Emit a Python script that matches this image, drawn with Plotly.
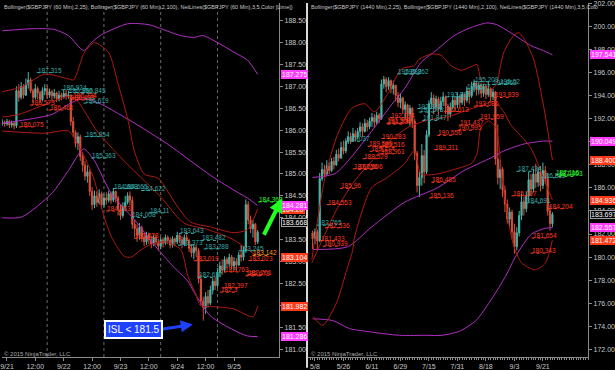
import plotly.graph_objects as go

# ======================= LEFT PANEL (60 Min) =======================
L_IDX = list(range(-2, 107))
L_CLOSE = [186.18, 186.14, 186.20, 186.12, 186.16, 186.10,
           186.90, 186.75, 187.00, 186.80, 187.05, 187.15,
           186.90, 186.75, 186.95, 186.85, 186.70, 186.90, 186.95, 186.80, 186.88, 186.78,
           186.85, 186.72, 186.80, 186.76, 186.84, 186.78, 186.80,
           186.20, 185.95, 185.70, 185.85, 185.40, 185.20, 184.95, 185.05, 184.60, 184.30,
           184.50, 184.35, 184.55, 184.30, 184.45, 184.40, 184.55, 184.40, 184.60, 184.45,
           184.20, 184.05, 184.25, 184.35, 184.50, 184.40,
           183.85, 183.75, 183.60, 183.78, 183.55, 183.45, 183.60, 183.50, 183.40, 183.55,
           183.45, 183.35, 183.50, 183.42, 183.55, 183.48, 183.38, 183.52, 183.45, 183.60,
           183.50, 183.40, 183.55, 183.48, 183.30, 183.20, 183.32, 183.25,
           182.60, 182.10, 181.95, 182.20, 182.05, 182.35, 182.55, 182.45, 182.75, 182.90,
           182.80, 183.05, 182.95, 183.10, 182.90, 183.00, 182.92, 183.15, 183.10, 183.25,
           184.30, 183.95, 183.75, 183.85, 183.45, 183.67]
L_HIGH = [186.25, 186.22, 186.26, 186.24, 186.22, 186.20,
          187.00, 187.05, 187.10, 187.05, 187.18, 187.33,
          187.20, 186.95, 187.05, 187.00, 186.90, 186.98, 187.05, 187.02, 186.95, 186.92,
          186.94, 186.88, 186.90, 186.86, 186.92, 186.92, 186.90,
          186.82, 186.30, 186.00, 185.95, 185.90, 185.50, 185.30, 185.20, 185.10, 184.70,
          184.62, 184.60, 184.65, 184.60, 184.55, 184.58, 184.62, 184.60, 184.68, 184.62,
          184.50, 184.30, 184.35, 184.50, 184.58, 184.60,
          184.48, 183.95, 183.85, 183.88, 183.82, 183.65, 183.68, 183.66, 183.58, 183.62,
          183.60, 183.52, 183.56, 183.55, 183.62, 183.60, 183.55, 183.58, 183.55, 183.68,
          183.65, 183.58, 183.62, 183.70, 183.52, 183.40, 183.40, 183.38,
          183.30, 182.70, 182.20, 182.30, 182.35, 182.45, 182.62, 182.65, 182.85, 183.00,
          183.05, 183.12, 183.10, 183.18, 183.15, 183.10, 183.08, 183.22, 183.37, 183.35,
          184.42, 184.38, 184.05, 183.95, 183.88, 183.72]
L_LOW = [186.10, 186.08, 186.10, 186.05, 186.06, 186.02,
         186.05, 186.65, 186.70, 186.72, 186.78, 186.95,
         186.85, 186.62, 186.70, 186.70, 186.62, 186.66, 186.80, 186.72, 186.74, 186.68,
         186.72, 186.64, 186.66, 186.68, 186.72, 186.70, 186.72,
         186.10, 185.85, 185.60, 185.55, 185.30, 185.05, 184.85, 184.80, 184.50, 184.18,
         184.22, 184.25, 184.30, 184.20, 184.22, 184.30, 184.35, 184.32, 184.36, 184.35,
         184.05, 183.95, 184.00, 184.15, 184.30, 184.28,
         183.75, 183.55, 183.45, 183.50, 183.45, 183.35, 183.38, 183.40, 183.30, 183.35,
         183.38, 183.25, 183.28, 183.32, 183.38, 183.40, 183.30, 183.32, 183.35, 183.40,
         183.42, 183.30, 183.35, 183.40, 183.22, 183.10, 183.05, 183.12,
         182.50, 182.00, 181.65, 181.80, 181.95, 182.00, 182.25, 182.35, 182.40, 182.65,
         182.70, 182.75, 182.85, 182.88, 182.82, 182.80, 182.78, 182.90, 183.00, 183.02,
         183.20, 183.85, 183.65, 183.55, 183.38, 183.40]
L_FIRST_OPEN = 186.15

# Bollinger (2,100) - purple
L_BB100_UP_X = [-2, 12, 20, 26, 32.4, 35.7, 40, 51, 60, 64, 73.5, 79, 83, 89, 96, 101.7, 106]
L_BB100_UP_Y = [188.27, 188.32, 188.30, 188.16, 187.82, 188.0, 188.18, 188.43, 188.41, 188.34,
                188.16, 188.12, 188.16, 188.0, 187.78, 187.60, 187.275]
L_BB100_MID_X = [-2, 3.4, 19, 26, 30.3, 34.5, 40, 45.4, 54, 64, 68, 87.4, 96, 101.7, 106]
L_BB100_MID_Y = [186.16, 186.2, 186.36, 186.59, 186.70, 186.70, 186.59, 186.43, 186.16, 185.82,
                 185.68, 184.92, 184.63, 184.45, 184.281]
L_BB100_LO_X = [-2, 6.3, 19, 26, 32.4, 37, 44, 54, 64, 70.6, 76.5, 79, 86, 96, 101.7, 106]
L_BB100_LO_Y = [184.0, 184.02, 184.56, 185.08, 185.57, 185.3, 184.56, 183.95, 183.27, 182.87,
                182.55, 182.31, 181.76, 181.43, 181.30, 181.286]
# Bollinger (2,25) - red
L_BB25_UP_X = [-2, 6.3, 16, 26, 28.2, 32.8, 37, 42.9, 47.1, 51.3, 53.8, 58, 63.9, 72.3, 77.7,
               86.1, 95.8, 101.7, 106]
L_BB25_UP_Y = [186.88, 186.99, 187.28, 187.17, 187.15, 187.78, 188.0, 187.78, 187.04, 186.2,
               185.53, 185.0, 184.9, 184.24, 183.9, 183.79, 183.66, 183.73, 184.20]
L_BB25_MID_X = [-2, 5, 16.8, 26, 29.4, 32.8, 37.8, 42.9, 50.4, 56.7, 65.1, 74.8, 84.9, 95.8, 106]
L_BB25_MID_Y = [186.30, 186.36, 186.6, 186.77, 186.70, 186.43, 186.0, 185.68, 185.25, 184.92,
                184.47, 183.88, 183.73, 183.5, 183.104]
L_BB25_LO_X = [-2, 16, 26, 30.3, 34.5, 37, 39.9, 44.1, 49.6, 52.5, 56.7, 60.9, 67.2, 73.5, 76.5,
               79.8, 81.9, 87.4, 95.8, 101.7, 104.2, 106]
L_BB25_LO_Y = [185.98, 185.93, 185.98, 185.64, 185.19, 184.85, 184.24, 183.57, 183.12, 183.1,
               183.27, 183.39, 183.45, 183.27, 182.67, 182.26, 181.99, 181.97, 181.92, 181.77,
               181.74, 181.982]

L_TICKVALS = [0, 12, 24, 36, 48, 60, 72, 84, 96]
L_TICKTEXT = ["9/21", "12:00", "9/22", "12:00", "9/23", "12:00", "9/24", "12:00", "9/25"]
L_SESSION_BREAKS = [17, 41, 65, 89]

L_LBL_TEXT = ["187.315", "186.924", "186.860", "186.845", "186.734", "186.688", "186.619",
              "186.573", "186.461", "186.075", "185.854", "185.363", "184.668", "184.665",
              "184.622", "184.11", "184.008", "184.153", "183.528", "183.643", "183.373",
              "183.482", "183.288", "183.019", "182.637", "182.763", "182.701", "182.673",
              "182.397", "182.3", "183.245", "183.142", "183.023", "184.363"]
L_LBL_X = [12.6, 23.1, 26.0, 31.5, 27.3, 26.5, 32.4, 9.7, 17.6, 5.0, 32.8, 35.7, 45.0, 49.2,
           56.7, 60.0, 52.5, 42.0, 53.8, 72.7, 72.3, 82.0, 83.2, 79.0, 80.7, 91.6, 101.7, 100.8,
           91.2, 90.0, 97.9, 103.8, 102.1, 106.3]
L_LBL_COL = ["t", "t", "t", "t", "r", "r", "t", "r", "r", "r", "t", "t", "t", "t", "t", "t",
             "t", "r", "r", "t", "t", "t", "t", "r", "t", "r", "r", "r", "r", "r", "t", "o",
             "r", "g"]

L_MARK_TEXT = ["187.275", "184.20", "184.281", "183.104", "181.982", "181.286"]
L_MARK_Y = [187.275, 184.20, 184.281, 183.104, 181.982, 181.286]
L_MARK_KIND = ["p", "r", "p", "r", "r", "p"]
L_LAST_TEXT = "183.668"

# ======================= RIGHT PANEL (1440 Min) =======================
R_IDX = list(range(-1, 101))
R_CLOSE = [181.60, 182.20, 181.40, 186.80, 187.60, 187.20, 187.90, 187.50, 188.30, 188.00,
           188.90, 188.60, 189.50, 189.20, 190.00, 190.40, 190.10, 190.70, 190.40, 190.90,
           191.30, 190.90, 191.60, 191.30, 191.80, 192.10, 191.70, 192.30, 192.00, 195.00,
           195.40, 194.80, 195.30, 194.60, 194.90, 194.00, 193.40, 193.80, 192.80, 193.20,
           192.40, 192.90, 191.80, 189.00, 186.20, 186.90, 188.80, 187.40, 190.60, 193.30,
           193.80, 193.00, 193.70, 192.80, 193.50, 193.90, 193.10, 192.40, 193.00, 193.60,
           193.20, 193.90, 193.40, 194.10, 193.60, 194.40, 194.00, 194.80, 195.10, 194.50,
           194.90, 194.20, 194.80, 194.10, 194.60, 193.90, 194.30, 188.50, 186.90, 187.60,
           185.80, 184.60, 183.30, 183.90, 182.20, 180.90, 182.10, 183.60, 184.80, 184.20,
           185.30, 186.70, 185.90, 187.20, 186.50, 187.40, 186.20, 187.50, 186.80, 184.00,
           182.90, 183.70]
R_HIGH = [182.30, 182.50, 182.40, 187.30, 188.20, 188.00, 188.40, 188.20, 188.60, 188.70,
          189.30, 189.40, 190.00, 190.10, 190.30, 190.90, 190.80, 191.20, 191.00, 191.20,
          191.70, 191.60, 192.00, 191.90, 192.10, 192.50, 192.40, 192.60, 192.50, 195.40,
          195.70, 195.60, 195.60, 195.40, 195.30, 194.80, 194.30, 194.20, 193.90, 193.50,
          193.30, 193.20, 193.00, 192.00, 189.20, 187.40, 189.80, 189.30, 191.00, 193.60,
          194.30, 194.10, 194.00, 193.90, 193.90, 194.30, 194.00, 193.30, 193.40, 194.00,
          193.90, 194.30, 194.10, 194.30, 194.20, 194.80, 194.60, 195.20, 195.40, 195.20,
          195.20, 195.10, 195.00, 194.90, 195.20, 194.70, 194.60, 194.40, 191.50, 188.40,
          187.80, 186.20, 185.00, 184.30, 184.10, 182.90, 182.60, 184.00, 185.50, 185.20,
          185.70, 187.40, 187.20, 187.60, 188.10, 187.80, 187.90, 188.20, 187.90, 187.30,
          184.50, 183.90]
R_LOW = [180.70, 181.10, 180.60, 181.30, 186.60, 186.90, 187.00, 187.20, 187.40, 187.60,
         187.90, 188.30, 188.50, 188.90, 189.00, 189.80, 189.80, 190.00, 190.00, 190.20,
         190.50, 190.40, 190.80, 190.90, 191.10, 191.30, 191.20, 191.50, 191.60, 191.90,
         194.60, 194.30, 194.50, 194.20, 194.10, 193.50, 193.00, 192.90, 192.40, 191.90,
         191.60, 191.40, 191.20, 188.40, 185.60, 185.20, 186.20, 186.40, 187.20, 190.40,
         192.90, 192.40, 192.70, 192.30, 192.60, 193.10, 192.40, 191.80, 192.10, 192.80,
         192.60, 192.90, 193.00, 193.20, 193.10, 193.40, 193.30, 193.80, 194.30, 194.00,
         194.10, 193.80, 193.90, 193.70, 193.90, 193.50, 193.60, 188.00, 186.30, 185.90,
         185.20, 183.90, 182.90, 182.60, 181.60, 180.30, 180.60, 181.80, 183.20, 183.60,
         183.90, 184.80, 185.30, 185.60, 186.00, 186.10, 185.70, 185.90, 186.30, 183.60,
         182.30, 182.60]
R_FIRST_OPEN = 182.10

R_BB100_UP_X = [-1, 8.4, 13.8, 23.8, 32.2, 37.7, 44.8, 51.5, 58.6, 65.7, 72.4, 76.6, 82.4, 90.8, 96.2, 100]
R_BB100_UP_Y = [186.9, 187.24, 188.3, 190.9, 193.2, 194.6, 196.9, 198.0, 199.2, 199.9, 200.3,
                200.15, 199.46, 198.35, 197.9, 197.541]
R_BB100_MID_X = [-1, 13.8, 23.8, 37.7, 51.5, 62.8, 74.1, 79.5, 87.9, 96.2, 100]
R_BB100_MID_Y = [180.66, 180.9, 182.6, 184.75, 186.0, 187.5, 188.6, 189.2, 189.8, 190.06, 190.049]
R_BB100_LO_X = [-1, 7.5, 14.6, 21.8, 35.6, 46.9, 53.6, 60.7, 67.8, 74.5, 80.3, 84.9, 91.2, 97.1, 100]
R_BB100_LO_Y = [174.65, 174.5, 173.8, 173.56, 173.22, 173.22, 173.22, 173.56, 174.5, 176.4,
                178.35, 180.2, 182.0, 182.5, 182.557]
R_BB25_UP_X = [-1.3, 4.2, 9.6, 15.5, 20.9, 25.1, 30.5, 36.4, 41.8, 43.9, 48.9, 53.1, 57.3, 61.5,
               65.7, 68.2, 69.9, 74.1, 76.2, 79.5, 83.7, 85.8, 87.9, 92.1, 96.2, 100]
R_BB25_UP_Y = [179.8, 186.9, 190.66, 192.9, 193.3, 192.6, 194.1, 196.3, 196.6, 197.15, 197.6,
               197.5, 196.6, 196.2, 196.5, 196.7, 195.4, 194.6, 194.9, 197.75, 199.2, 199.46,
               199.0, 197.15, 193.2, 188.40]
R_BB25_MID_X = [-1.3, 9.6, 16.7, 23.8, 31.4, 39.7, 48.1, 56.5, 64.9, 71.1, 75.3, 79.5, 82.4,
                90.8, 96.2, 100]
R_BB25_MID_Y = [179.5, 184.3, 186.6, 188.3, 190.06, 191.3, 191.9, 192.2, 192.8, 193.2, 193.5,
                192.6, 191.5, 189.5, 186.9, 184.936]
R_BB25_LO_X = [-0.8, 3.3, 9.2, 13.4, 15.9, 16.7, 23.8, 30.5, 37.7, 41.8, 44.8, 51.5, 58.6, 65.7,
               68.2, 69.9, 73.2, 76.2, 78.7, 81.6, 83.7, 87, 92.9, 97.1, 100]
R_BB25_LO_Y = [174.84, 174.08, 176.1, 178.9, 180.6, 181.75, 186.0, 186.9, 188.1, 189.2, 187.2,
               187.2, 187.6, 188.1, 188.9, 191.2, 191.8, 191.2, 187.0, 183.0, 181.0, 179.5,
               178.9, 179.5, 181.472]

R_TICKVALS = [0, 12, 24, 36, 48, 60, 72, 84, 96]
R_TICKTEXT = ["5/8", "5/26", "6/11", "6/29", "7/15", "7/31", "8/18", "9/3", "9/21"]

R_LBL_TEXT = ["195.882", "195.862", "195.209", "195.02", "194.577", "194.963", "193.839",
              "193.893", "193.086", "192.871", "192.613", "192.573", "192.094", "191.959",
              "191.847", "191.437", "191.598", "191.526", "190.995", "190.556", "190.283",
              "189.599", "189.516", "189.311", "188.961", "189.174", "188.529", "187.656",
              "187.606", "186.485", "185.96", "185.136", "184.553", "182.765", "182.536",
              "181.433", "180.939", "190.037", "187.434", "186.882", "187.116", "187.003",
              "185.307", "184.691", "184.204", "181.654", "180.343"]
R_LBL_X = [34.7, 37.7, 66.9, 77.4, 63.6, 74.5, 75.3, 55.2, 66.9, 43.1, 54.4, 43.9, 31.4, 69.0,
           45.2, 60.7, 30.1, 30.5, 59.8, 51.5, 28.0, 22.2, 27.2, 50.2, 27.2, 23.0, 20.1, 15.9,
           18.0, 49.0, 10.5, 48.1, 5.0, 0.8, 4.2, 2.1, 3.3, 12.6, 84.9, 95.0, 101.3, 102.5,
           82.8, 88.7, 98.3, 91.2, 90.8]
R_LBL_COL = ["t", "t", "t", "t", "t", "t", "r", "t", "r", "t", "r", "t", "r", "r", "t", "r",
             "r", "r", "r", "r", "r", "r", "r", "r", "r", "r", "r", "r", "r", "r", "r", "r",
             "r", "t", "r", "r", "r", "t", "t", "t", "g", "g", "r", "t", "r", "r", "r"]

R_MARK_TEXT = ["197.541", "190.049", "188.400", "184.936", "182.557", "181.472"]
R_MARK_Y = [197.541, 190.049, 188.400, 184.936, 182.557, 181.472]
R_MARK_KIND = ["p", "p", "r", "r", "p", "r"]
R_LAST_TEXT = "183.697"

TITLE_L = ("Bollinger($GBPJPY (60 Min),2,25), Bollinger($GBPJPY (60 Min),2,100), "
           "NetLines($GBPJPY (60 Min),3,5,Color [Lime])")
TITLE_R = ("Bollinger($GBPJPY (1440 Min),2,25), Bollinger($GBPJPY (1440 Min),2,100), "
           "NetLines($GBPJPY (1440 Min),3,5,Colo")
COPYRIGHT = "© 2015 NinjaTrader, LLC"
CALLOUT = "ISL < 181.5"

# ======================= STYLE =======================
W, H = 615, 370
NARROW = "Liberation Sans Narrow, Arial Narrow, Liberation Sans, sans-serif"
UP_COL = "#4cb5aa"
DN_COL = "#d9503c"
PURPLE = "#b22fc4"
DKRED = "#b01a12"
AXIS_COL = "#8a8a8a"
TXT_COL = "#c8c8c8"
LBL_COLORS = {"t": "#36a9a6", "r": "#ff3a22", "o": "#ff9a1a", "g": "#2bff2b"}
MARK_BG = {"p": "#ff3cff", "r": "#ff3a1a"}

LEFT_DOM = [0, 279 / W]
RIGHT_DOM = [308 / W, 590 / W]
PLOT_H = 359


def prev_close_opens(first, closes):
    return [first] + closes[:-1]


def fix_hl(opens, highs, lows, closes):
    hi = [max(h, o, c) for h, o, c in zip(highs, opens, closes)]
    lo = [min(l, o, c) for l, o, c in zip(lows, opens, closes)]
    return hi, lo


fig = go.Figure()

panels = [
    dict(xa="x", ya="y", idx=L_IDX, close=L_CLOSE, high=L_HIGH, low=L_LOW, first=L_FIRST_OPEN,
         lines=[(L_BB100_UP_X, L_BB100_UP_Y, PURPLE), (L_BB100_MID_X, L_BB100_MID_Y, PURPLE),
                (L_BB100_LO_X, L_BB100_LO_Y, PURPLE), (L_BB25_UP_X, L_BB25_UP_Y, DKRED),
                (L_BB25_MID_X, L_BB25_MID_Y, DKRED), (L_BB25_LO_X, L_BB25_LO_Y, DKRED)]),
    dict(xa="x2", ya="y2", idx=R_IDX, close=R_CLOSE, high=R_HIGH, low=R_LOW, first=R_FIRST_OPEN,
         lines=[(R_BB100_UP_X, R_BB100_UP_Y, PURPLE), (R_BB100_MID_X, R_BB100_MID_Y, PURPLE),
                (R_BB100_LO_X, R_BB100_LO_Y, PURPLE), (R_BB25_UP_X, R_BB25_UP_Y, DKRED),
                (R_BB25_MID_X, R_BB25_MID_Y, DKRED), (R_BB25_LO_X, R_BB25_LO_Y, DKRED)]),
]

for p in panels:
    for xs, ys, col in p["lines"]:
        fig.add_trace(go.Scatter(x=xs, y=ys, mode="lines", xaxis=p["xa"], yaxis=p["ya"],
                                 line=dict(color=col, width=1, shape="spline", smoothing=0.7),
                                 hoverinfo="skip"))
    opens = prev_close_opens(p["first"], p["close"])
    hi, lo = fix_hl(opens, p["high"], p["low"], p["close"])
    fig.add_trace(go.Candlestick(
        x=p["idx"], open=opens, high=hi, low=lo, close=p["close"],
        xaxis=p["xa"], yaxis=p["ya"], whiskerwidth=0,
        increasing=dict(line=dict(color=UP_COL, width=1), fillcolor=UP_COL),
        decreasing=dict(line=dict(color=DN_COL, width=1), fillcolor=DN_COL),
        hoverinfo="skip"))

annotations = []
shapes = []

# NetLines labels with dotted underlines
for texts, xs, cols, xa, ya, span in [(L_LBL_TEXT, L_LBL_X, L_LBL_COL, "x", "y", 7.0),
                                      (R_LBL_TEXT, R_LBL_X, R_LBL_COL, "x2", "y2", 7.0)]:
    for t, x, c in zip(texts, xs, cols):
        v = float(t)
        col = LBL_COLORS[c]
        shapes.append(dict(type="line", xref=xa, yref=ya, x0=x, x1=x + span, y0=v, y1=v,
                           line=dict(color=col, width=1, dash="dot"), layer="above"))
        annotations.append(dict(x=x, y=v, xref=xa, yref=ya, text=t, showarrow=False,
                                xanchor="left", yanchor="bottom", yshift=-2, borderpad=0,
                                font=dict(family=NARROW, size=6.5, color=col)))

# Session break lines (left)
for sb in L_SESSION_BREAKS:
    shapes.append(dict(type="line", xref="x", yref="y domain", x0=sb, x1=sb, y0=0, y1=1,
                       line=dict(color="#6a6a6a", width=1, dash="dot"), layer="below"))

# Panel separator
shapes.append(dict(type="line", xref="paper", yref="paper", x0=307 / W, x1=307 / W,
                   y0=-11 / PLOT_H, y1=1, line=dict(color="#d8d8d8", width=2)))


def marker(xpaper, yval, ya, text, bg, border, yshift=0):
    return dict(x=xpaper, y=yval, xref="paper", yref=ya, text=text, showarrow=False,
                xanchor="left", yanchor="middle", yshift=yshift, bgcolor=bg,
                bordercolor=border, borderwidth=1, borderpad=0,
                font=dict(family=NARROW, size=7, color="white"))


for texts, ys, kinds, xp, ya in [(L_MARK_TEXT, L_MARK_Y, L_MARK_KIND, 281 / W, "y"),
                                 (R_MARK_TEXT, R_MARK_Y, R_MARK_KIND, 592 / W, "y2")]:
    for t, y, k in zip(texts, ys, kinds):
        annotations.append(marker(xp, y, ya, t, MARK_BG[k], MARK_BG[k]))
annotations.append(marker(281 / W, L_CLOSE[-1], "y", L_LAST_TEXT, "black", "#a0a0a0", yshift=10))
annotations.append(marker(592 / W, R_CLOSE[-1], "y2", R_LAST_TEXT, "black", "#a0a0a0"))

# Titles and copyright
annotations.append(dict(x=0, y=1, xref="paper", yref="paper", text=TITLE_L, showarrow=False,
                        xanchor="left", yanchor="top", yshift=1,
                        font=dict(family=NARROW, size=5.5, color=TXT_COL)))
annotations.append(dict(x=309 / W, y=1, xref="paper", yref="paper", text=TITLE_R, showarrow=False,
                        xanchor="left", yanchor="top", yshift=1,
                        font=dict(family=NARROW, size=5.5, color=TXT_COL)))
for xp in [0, 309 / W]:
    annotations.append(dict(x=xp, y=3 / PLOT_H, xref="paper", yref="paper", text=COPYRIGHT,
                            showarrow=False, xanchor="left", yanchor="middle",
                            font=dict(family=NARROW, size=6, color="#a8a8a8")))

# Green arrow
annotations.append(dict(x=282 / W, y=1 - 198 / PLOT_H, xref="paper", yref="paper", text="",
                        showarrow=True, ax=-19, ay=38, arrowcolor="#22ff22", arrowwidth=4,
                        arrowhead=2, arrowsize=0.7))
# Blue callout
annotations.append(dict(x=192 / W, y=1 - 326 / PLOT_H, xref="paper", yref="paper", text="",
                        showarrow=True, ax=-33, ay=5, arrowcolor="#1e40ff", arrowwidth=3,
                        arrowhead=2, arrowsize=0.8))
annotations.append(dict(x=132 / W, y=1 - 331 / PLOT_H, xref="paper", yref="paper", text=CALLOUT,
                        showarrow=False, xanchor="center", yanchor="middle",
                        bgcolor="#1e40ff", bordercolor="white", borderwidth=2, borderpad=2,
                        font=dict(family="Liberation Sans, Arial, sans-serif", size=10, color="white")))

axis_common = dict(showgrid=False, zeroline=False, showline=True, linecolor=AXIS_COL,
                   ticks="outside", ticklen=3, tickcolor=AXIS_COL, ticklabeloverflow="allow",
                   tickfont=dict(family=NARROW, size=7, color=TXT_COL), fixedrange=True)

fig.update_layout(
    width=W, height=H, margin=dict(l=0, r=0, t=0, b=11),
    paper_bgcolor="black", plot_bgcolor="black", showlegend=False,
    font=dict(family=NARROW, size=7, color=TXT_COL),
    xaxis=dict(domain=LEFT_DOM, range=[-2.1, 115.1], anchor="y", tickmode="array",
               tickvals=L_TICKVALS, ticktext=L_TICKTEXT, rangeslider=dict(visible=False),
               **axis_common),
    yaxis=dict(domain=[0, 1], range=[180.82, 188.905], side="right", anchor="x",
               dtick=0.5, tick0=181, tickformat=".2f", **axis_common),
    xaxis2=dict(domain=RIGHT_DOM, range=[-2.93, 115.06], anchor="y2", tickmode="array",
                tickvals=R_TICKVALS, ticktext=R_TICKTEXT, rangeslider=dict(visible=False),
                minor=dict(dtick=1, tick0=0, ticklen=2, tickcolor=AXIS_COL, ticks="outside"),
                **axis_common),
    yaxis2=dict(domain=[0, 1], range=[171.34, 202.03], side="right", anchor="x2",
                dtick=2, tick0=172, tickformat=".2f", **axis_common),
    annotations=annotations, shapes=shapes, hovermode=False,
)

fig.write_html("out.html", config={"displayModeBar": False},
               post_script="document.body.style.margin='0';document.body.style.background='black';")
